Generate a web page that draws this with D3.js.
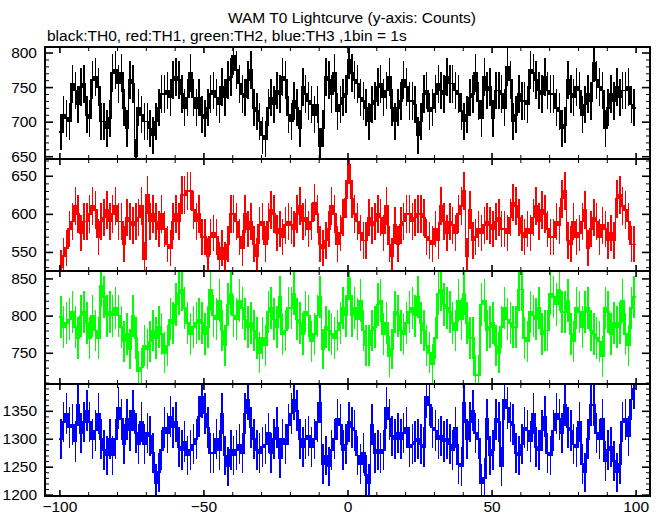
<!DOCTYPE html>
<html><head><meta charset="utf-8">
<script src="https://cdn.jsdelivr.net/npm/d3@7"></script>
<style>body{margin:0;background:#fff}svg{display:block}text{font-family:"Liberation Sans",Arial,Helvetica,sans-serif}</style>
</head><body><svg id="c" width="662" height="515"></svg>
<script>
const title = "WAM T0 Lightcurve (y-axis: Counts)";
const subtitle = "black:TH0, red:TH1, green:TH2, blue:TH3 ,1bin = 1s";
const binStart = -99.5, binWidth = 1;

const th0 = [
685,710,705,700,755,745,725,750,755,710,
705,760,765,750,700,700,690,705,770,775,
755,770,720,690,760,755,650,720,710,700,
700,690,680,700,720,740,740,745,735,760,
765,760,740,720,735,770,735,720,735,710,
705,720,740,745,735,725,750,735,760,765,
795,775,755,740,735,760,775,720,715,700,
680,675,720,735,725,745,740,765,760,710,
700,730,720,690,750,740,730,725,710,725,
665,690,765,760,740,770,715,725,735,740,
790,770,760,755,735,730,720,700,725,730,
750,755,735,745,765,720,700,720,730,760,
750,730,730,725,680,700,740,745,715,720,
740,755,745,740,765,755,755,745,740,715,
700,710,735,740,770,730,705,765,745,750,
705,745,745,740,720,780,760,700,710,740,
730,730,725,775,770,760,745,740,765,745,
740,740,720,715,690,695,760,740,735,750,
745,710,725,740,730,785,760,750,745,690,
720,740,730,750,735,745,745,750,725,720];

const th1 = [
530,545,555,580,590,610,600,575,590,590,
600,610,605,570,590,595,605,590,600,610,
590,590,560,595,590,585,590,595,610,540,
625,590,600,590,580,600,580,560,555,590,
600,590,625,625,630,630,605,590,600,570,
570,545,570,575,570,540,555,540,560,600,
600,590,570,555,600,580,590,560,545,585,
590,560,590,605,600,575,580,570,585,590,
585,580,600,610,590,595,580,590,615,600,
560,555,565,580,610,600,560,575,595,620,
665,620,600,590,575,565,565,595,585,590,
600,595,575,610,560,545,585,560,585,590,
600,600,590,595,600,600,595,570,565,560,
580,565,610,590,575,590,585,575,600,610,
630,545,605,565,570,580,575,585,590,585,
580,590,595,580,580,575,595,615,610,595,
575,570,580,575,595,610,590,605,600,580,
570,570,590,585,620,630,565,560,590,570,
575,590,605,555,580,595,590,570,585,580,
565,575,565,620,625,610,605,590,560,560];

const th2 = [
798,785,790,795,805,785,770,800,805,790,
770,800,780,770,840,825,800,805,800,810,
800,785,765,775,755,800,770,725,730,760,
755,765,780,770,785,775,750,760,795,790,
815,830,835,810,790,775,785,790,795,790,
775,785,835,800,795,820,780,760,815,830,
800,795,820,810,795,785,790,780,770,750,
770,760,805,810,795,785,825,775,780,810,
810,830,795,790,775,805,800,765,775,800,
825,755,785,780,775,770,780,790,810,800,
850,800,810,795,820,780,760,760,780,785,
815,820,775,790,745,755,805,800,780,775,
790,805,810,800,825,790,780,760,750,735,
770,830,835,815,810,805,790,780,820,795,
830,790,770,770,720,720,815,820,780,785,
790,760,750,785,810,795,790,785,785,835,
835,770,765,805,800,795,810,775,780,780,
830,825,815,835,805,805,820,775,765,810,
805,785,805,810,780,775,770,765,745,810,
805,775,790,785,790,820,775,760,810,825];

const th3 = [
1300,1330,1345,1320,1325,1295,1360,1310,1330,1350,
1330,1300,1315,1345,1300,1280,1270,1300,1270,1300,
1355,1335,1290,1335,1315,1350,1310,1290,1330,1290,
1310,1305,1275,1220,1240,1280,1320,1310,1340,1320,
1330,1285,1280,1295,1270,1280,1290,1300,1340,1375,
1345,1320,1275,1275,1300,1280,1345,1270,1250,1280,
1270,1280,1290,1275,1345,1370,1320,1300,1280,1275,
1285,1290,1310,1275,1300,1320,1265,1300,1290,1325,
1345,1370,1350,1300,1285,1300,1305,1285,1300,1330,
1365,1255,1270,1250,1280,1300,1335,1325,1280,1290,
1330,1320,1315,1270,1255,1275,1235,1220,1325,1275,
1280,1275,1280,1355,1335,1305,1300,1310,1300,1310,
1320,1285,1290,1295,1300,1290,1285,1375,1360,1320,
1315,1300,1305,1295,1300,1290,1280,1320,1255,1250,
1365,1300,1330,1350,1310,1300,1220,1230,1335,1270,
1280,1335,1330,1250,1370,1355,1330,1325,1275,1270,
1290,1320,1315,1295,1345,1285,1280,1315,1340,1275,
1270,1315,1345,1335,1310,1360,1320,1315,1290,1285,
1330,1255,1240,1300,1360,1360,1310,1300,1335,1260,
1280,1285,1260,1240,1255,1330,1335,1305,1370,1390];

const xTicks = [-100,-50,0,50,100];
const th0Ticks = [650,700,750,800];
const th1Ticks = [550,600,650];
const th2Ticks = [750,800,850];
const th3Ticks = [1200,1250,1300,1350];

const svg = d3.select("#c");
const L = 45, R = 650;
const FONT = "Liberation Sans, Arial, Helvetica, sans-serif";
const x = d3.scaleLinear().domain([-105,105]).range([L,R]);

const panels = [
  {data: th0, color:"#000000", domain:[646,808], ticks: th0Ticks, top:47, bottom:159},
  {data: th1, color:"#ff0000", domain:[525,672], ticks: th1Ticks, top:159, bottom:271},
  {data: th2, color:"#00ff00", domain:[708,860], ticks: th2Ticks, top:271, bottom:384},
  {data: th3, color:"#0000ff", domain:[1197.5,1398], ticks: th3Ticks, top:384, bottom:496}
];

svg.append("text").attr("x",352).attr("y",23).attr("text-anchor","middle")
  .attr("font-size",15.5).text(title);
svg.append("text").attr("x",47).attr("y",41).attr("font-size",15.5).text(subtitle);

const xMinor = d3.range(-100,101,10).filter(v=>!xTicks.includes(v));

panels.forEach((p,pi)=>{
  const y = d3.scaleLinear().domain(p.domain).range([p.bottom,p.top]);
  const cid = "clip"+pi;
  svg.append("clipPath").attr("id",cid).append("rect")
    .attr("x",L).attr("y",p.top).attr("width",R-L).attr("height",p.bottom-p.top);
  const g = svg.append("g").attr("clip-path",`url(#${cid})`).attr("shape-rendering","crispEdges");
  const pts = p.data.map((v,i)=>({t: binStart + i*binWidth, v}));
  g.selectAll("line.err").data(pts).join("line").attr("class","err")
    .attr("x1",d=>x(d.t)).attr("x2",d=>x(d.t))
    .attr("y1",d=>y(d.v-Math.sqrt(d.v))).attr("y2",d=>y(d.v+Math.sqrt(d.v)))
    .attr("stroke",p.color).attr("stroke-width",1.5);
  const stepPts = pts.flatMap(d=>[[d.t-binWidth/2,d.v],[d.t+binWidth/2,d.v]]);
  g.append("path").attr("d", d3.line().x(d=>x(d[0])).y(d=>y(d[1]))(stepPts))
    .attr("fill","none").attr("stroke",p.color).attr("stroke-width",1.6);

  const yMinor = d3.range(Math.ceil(p.domain[0]/10)*10, p.domain[1], 10).filter(v=>!p.ticks.includes(v));
  const axisStyle = (sel, w) => { sel.select(".domain").remove(); sel.selectAll(".tick line").attr("stroke","#000").attr("stroke-width",w); };
  svg.append("g").attr("transform",`translate(${L},0)`)
    .call(d3.axisLeft(y).tickValues(yMinor).tickSize(-4).tickFormat(""))
    .call(s=>axisStyle(s,1));
  svg.append("g").attr("transform",`translate(${L},0)`)
    .call(d3.axisLeft(y).tickValues(p.ticks).tickSize(-8).tickPadding(8).tickFormat(d3.format("d")))
    .call(s=>axisStyle(s,1.6))
    .call(s=>s.selectAll("text").attr("font-size",15.5).attr("font-family",FONT).attr("fill","#000"));
  svg.append("g").attr("transform",`translate(${R},0)`)
    .call(d3.axisRight(y).tickValues(yMinor).tickSize(-4).tickFormat(""))
    .call(s=>axisStyle(s,1));
  svg.append("g").attr("transform",`translate(${R},0)`)
    .call(d3.axisRight(y).tickValues(p.ticks).tickSize(-8).tickFormat(""))
    .call(s=>axisStyle(s,1.6));
  svg.append("g").attr("transform",`translate(0,${p.top})`)
    .call(d3.axisTop(x).tickValues(xMinor).tickSize(-4).tickFormat(""))
    .call(s=>axisStyle(s,1));
  svg.append("g").attr("transform",`translate(0,${p.top})`)
    .call(d3.axisTop(x).tickValues(xTicks).tickSize(-6).tickFormat(""))
    .call(s=>axisStyle(s,1.6));
  svg.append("g").attr("transform",`translate(0,${p.bottom})`)
    .call(d3.axisBottom(x).tickValues(xMinor).tickSize(-4).tickFormat(""))
    .call(s=>axisStyle(s,1));
  const last = pi === panels.length-1;
  svg.append("g").attr("transform",`translate(0,${p.bottom})`)
    .call(d3.axisBottom(x).tickValues(xTicks).tickSize(-6).tickPadding(5)
      .tickFormat(last ? d3.format("d") : ""))
    .call(s=>axisStyle(s,1.6))
    .call(s=>s.selectAll("text").attr("font-size",15.5).attr("font-family",FONT).attr("fill","#000"));
  svg.append("rect").attr("x",L).attr("y",p.top).attr("width",R-L).attr("height",p.bottom-p.top)
    .attr("fill","none").attr("stroke","#000").attr("stroke-width",2);
});
</script></body></html>
